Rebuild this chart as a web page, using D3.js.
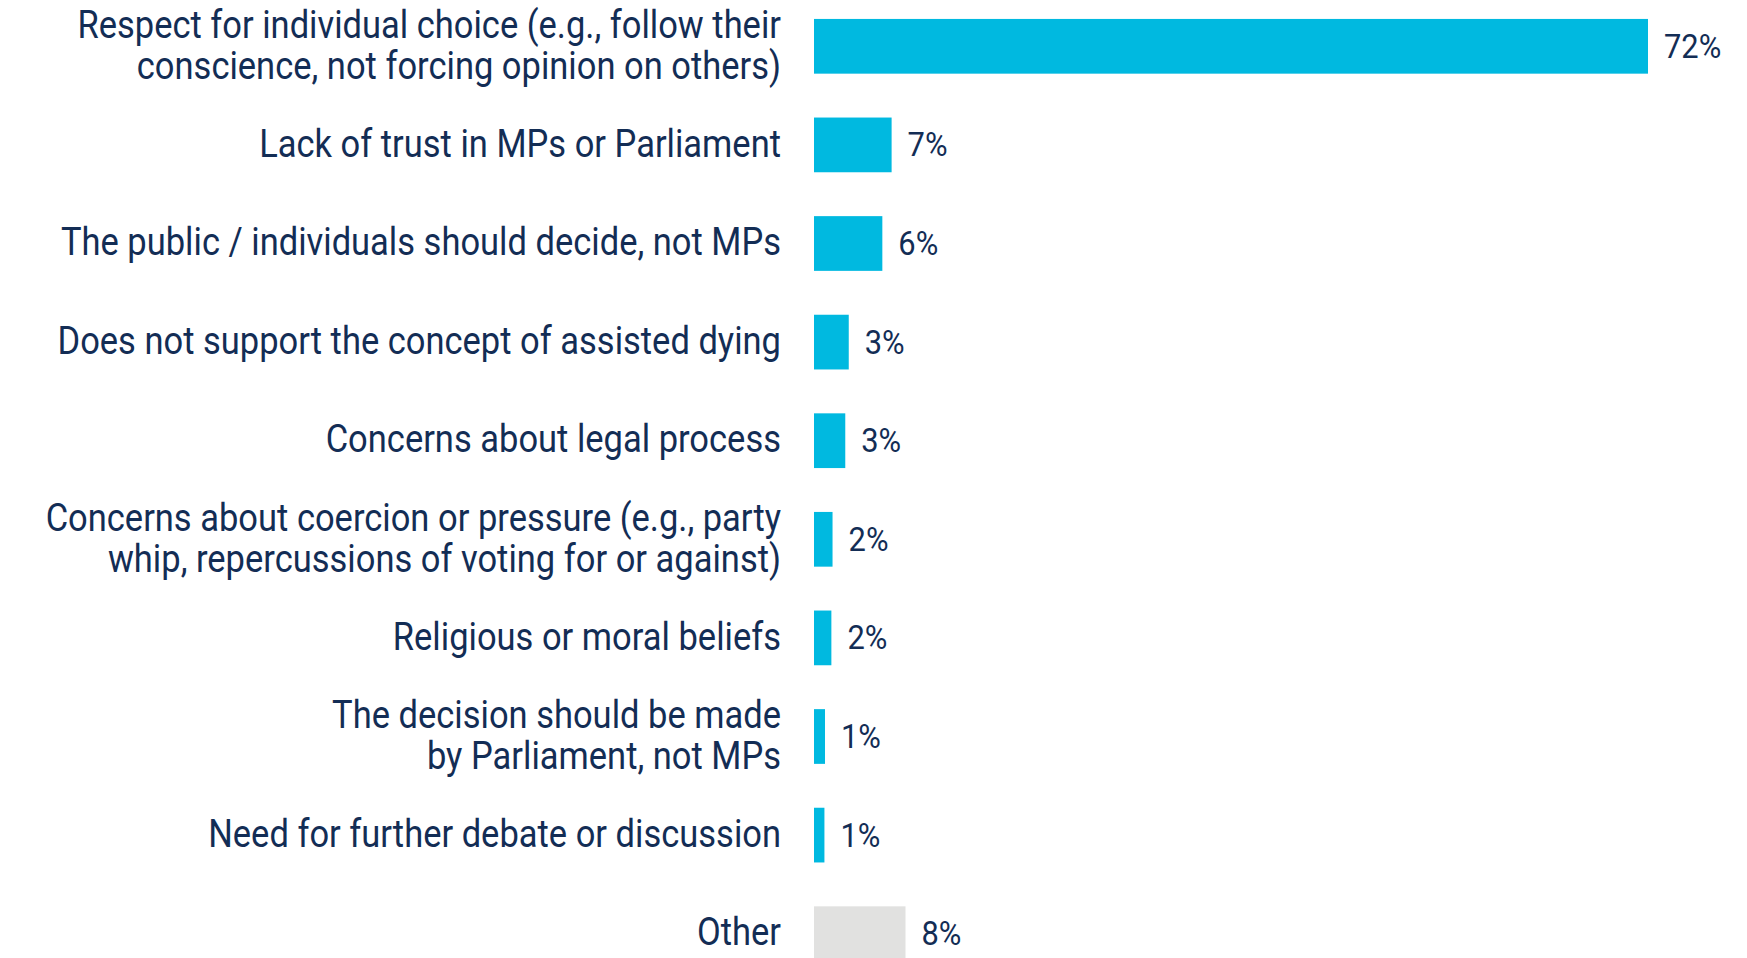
<!DOCTYPE html>
<html>
<head>
<script src="https://d3js.org/d3.v7.min.js"></script>
<style>
  body { margin: 0; background: #fff; }
  text { font-family: Roboto, "DejaVu Sans Condensed", sans-serif; fill: #132d55; }
</style>
</head>
<body>
<svg width="1747" height="958"></svg>
<script>
"use strict";

var categories = [
  ["Respect for individual choice (e.g., follow their", "conscience, not forcing opinion on others)"],
  ["Lack of trust in MPs or Parliament"],
  ["The public / individuals should decide, not MPs"],
  ["Does not support the concept of assisted dying"],
  ["Concerns about legal process"],
  ["Concerns about coercion or pressure (e.g., party", "whip, repercussions of voting for or against)"],
  ["Religious or moral beliefs"],
  ["The decision should be made", "by Parliament, not MPs"],
  ["Need for further debate or discussion"],
  ["Other"]
];
var values = [72, 6.7, 5.9, 3.0, 2.7, 1.6, 1.5, 0.95, 0.9, 7.9];
var valueLabels = ["72%", "7%", "6%", "3%", "3%", "2%", "2%", "1%", "1%", "8%"];
var barColors = ["#00b9e0", "#00b9e0", "#00b9e0", "#00b9e0", "#00b9e0", "#00b9e0", "#00b9e0", "#00b9e0", "#00b9e0", "#e1e1e0"];

var svg = d3.select("svg");
var x0 = 814, labelRight = 781;

var x = d3.scaleLinear().domain([0, 72]).range([x0, 1648]);
var y = d3.scaleBand().domain(d3.range(categories.length))
    .range([-3, 983]).paddingInner(0.445).paddingOuter(0.2225);

// the source font is a condensed face; squeeze Roboto to match
var probe = svg.append("text").style("font-size", "38px").text("Lack of trust in MPs or Parliament");
var squeeze = 522 / probe.node().getComputedTextLength();
probe.remove();

var rows = svg.selectAll("g.row").data(categories).enter().append("g")
    .attr("class", "row")
    .attr("transform", (d, i) => "translate(0," + (y(i) + y.bandwidth() / 2) + ")");

rows.append("rect")
    .attr("x", x0)
    .attr("y", -y.bandwidth() / 2)
    .attr("width", (d, i) => x(values[i]) - x0)
    .attr("height", y.bandwidth())
    .attr("fill", (d, i) => barColors[i]);

rows.append("text")
    .attr("transform", "translate(" + labelRight + ",0) scale(" + squeeze + ",1)")
    .attr("text-anchor", "end")
    .style("font-size", "38px")
    .selectAll("tspan").data(d => d.map((t, k) => ({ t: t, k: k, n: d.length }))).enter()
    .append("tspan")
    .attr("x", 0)
    .attr("y", d => (d.k - (d.n - 1) / 2) * 41)
    .attr("dy", "0.31em")
    .text(d => d.t);

rows.append("text")
    .attr("transform", (d, i) => "translate(" + (x(values[i]) + 16) + ",0) scale(" + squeeze + ",1)")
    .attr("dy", "0.34em")
    .style("font-size", "34px")
    .text((d, i) => valueLabels[i]);
</script>
</body>
</html>
